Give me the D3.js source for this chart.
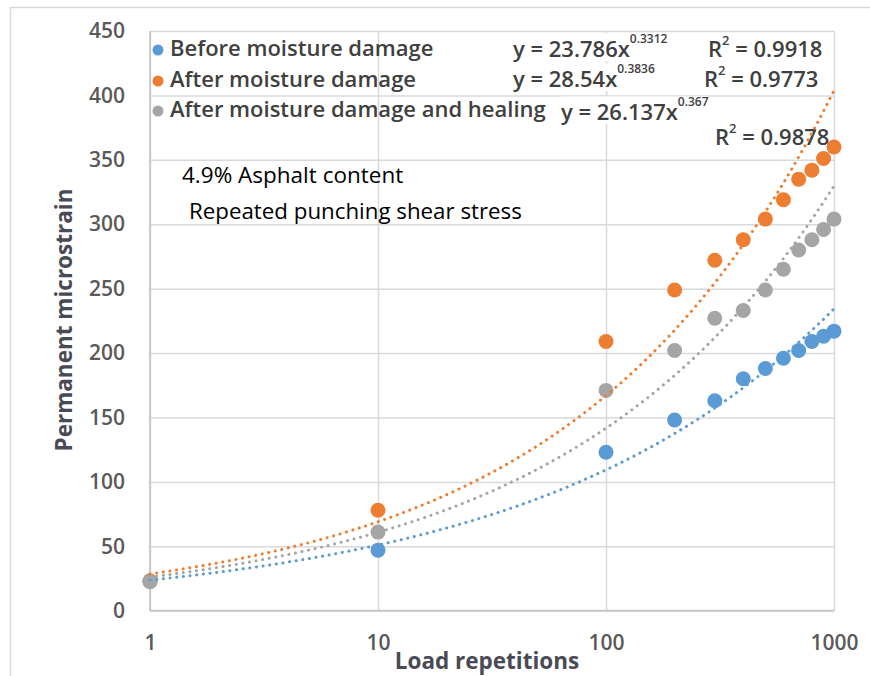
<!DOCTYPE html>
<html><head><meta charset="utf-8">
<script src="https://cdn.jsdelivr.net/npm/d3@7"></script>
<style>
html,body{margin:0;padding:0;background:#fff;}
svg{display:block;font-family:"Open Sans",sans-serif;}
</style></head>
<body><svg id="chart" width="870" height="676"></svg>
<script>
// ---- data ----
const loadReps = [1, 10, 100, 200, 300, 400, 500, 600, 700, 800, 900, 1000];
const beforeDamage = [23, 47, 123, 148, 163, 180, 188, 196, 202, 209, 213, 217];
const afterDamage = [23, 78, 209, 249, 272, 288, 304, 319, 335, 342, 351, 360];
const afterHealing = [22.5, 61, 171, 202, 227, 233, 249, 265, 280, 288, 296, 304];
const seriesNames = ["Before moisture damage", "After moisture damage", "After moisture damage and healing"];
const trendCoef = [23.786, 28.54, 26.137];
const trendExp = [0.3312, 0.3836, 0.367];
const trendR2 = ["0.9918", "0.9773", "0.9878"];
const yTicks = [0, 50, 100, 150, 200, 250, 300, 350, 400, 450];
const xTicks = [1, 10, 100, 1000];
const notes = ["4.9% Asphalt content", "Repeated punching shear stress"];

const colors = ["#5B9BD5", "#ED7D31", "#A5A5A5"];
const seriesVals = [beforeDamage, afterDamage, afterHealing];

const svg = d3.select("#chart");
const L = 150, R = 834, T = 31, B = 610.7;
const x = d3.scaleLog().domain([1, 1000]).range([L, R]);
const y = d3.scaleLinear().domain([0, 450]).range([B, T]);

// outer frame
svg.append("rect").attr("x", 10.5).attr("y", 7.5).attr("width", 900).attr("height", 700)
  .attr("fill", "none").attr("stroke", "#d9d9d9").attr("stroke-width", 1.5);

// gridlines + tick labels
const gy = svg.append("g").attr("transform", `translate(${L},0)`)
  .call(d3.axisLeft(y).tickValues(yTicks).tickSize(-(R - L)).tickPadding(25).tickFormat(d3.format("d")));
gy.select(".domain").remove();
gy.selectAll("line").attr("stroke", "#d9d9d9").attr("stroke-width", 1.5);
gy.selectAll("text").attr("fill", "#595959").attr("font-size", 21).attr("font-weight", 600)
  .attr("font-family", "'Open Sans',sans-serif");

const gx = svg.append("g").attr("transform", `translate(0,${B})`)
  .call(d3.axisBottom(x).tickValues(xTicks).tickSize(-(B - T)).tickPadding(32).tickFormat(d3.format("d")));
gx.select(".domain").remove();
gx.selectAll("line").attr("stroke", "#d9d9d9").attr("stroke-width", 1.5);
gx.selectAll("text").attr("fill", "#595959").attr("font-size", 21).attr("font-weight", 600)
  .attr("dy", "0.35em").attr("font-family", "'Open Sans',sans-serif");

// axis lines
svg.append("line").attr("x1", L).attr("x2", L).attr("y1", T).attr("y2", B)
  .attr("stroke", "#c8c8c8").attr("stroke-width", 1.8);
svg.append("line").attr("x1", L).attr("x2", R).attr("y1", B).attr("y2", B)
  .attr("stroke", "#c8c8c8").attr("stroke-width", 1.8);

// axis titles
svg.append("text").attr("x", 487).attr("y", 660).attr("text-anchor", "middle")
  .attr("dominant-baseline", "central").attr("font-size", 22.5).attr("font-weight", 700)
  .attr("fill", "#4a4a55").text("Load repetitions");
svg.append("text").attr("transform", "translate(63,320) rotate(-90)").attr("text-anchor", "middle")
  .attr("dominant-baseline", "central").attr("font-size", 22.5).attr("font-weight", 700)
  .attr("fill", "#4a4a55").text("Permanent microstrain");

// trendline labels (with white boxes)
const eqG = svg.append("g");
function eqLabel(tx, ty, i) {
  const t = eqG.append("text").attr("x", tx).attr("y", ty).attr("dominant-baseline", "central")
    .attr("font-size", 22).attr("font-weight", 600).attr("fill", "#404040");
  t.append("tspan").text(`y = ${trendCoef[i]}x`);
  t.append("tspan").attr("font-size", 12).attr("dy", -10).text(String(trendExp[i]));
  t.append("tspan").attr("dy", 10).text("");
  return t;
}
function r2Label(tx, ty, i) {
  const t = eqG.append("text").attr("x", tx).attr("y", ty).attr("dominant-baseline", "central")
    .attr("font-size", 22).attr("font-weight", 600).attr("fill", "#404040");
  t.append("tspan").text("R");
  t.append("tspan").attr("font-size", 13).attr("dy", -8).text("2");
  t.append("tspan").attr("dy", 8).text(` = ${trendR2[i]}`);
  return t;
}
const labels = [
  eqLabel(513, 48, 0), r2Label(708, 48, 0),
  eqLabel(513, 78, 1), r2Label(704, 78, 1),
  eqLabel(561, 111, 2), r2Label(715, 136, 2)
];
labels.forEach(t => {
  const b = t.node().getBBox();
  eqG.insert("rect", () => t.node()).attr("x", b.x).attr("y", b.y + 4)
    .attr("width", b.width).attr("height", b.height - 6).attr("fill", "#fff");
});

// markers
seriesVals.forEach((vals, i) => {
  svg.append("g").selectAll("circle").data(vals).join("circle")
    .attr("cx", (d, j) => x(loadReps[j])).attr("cy", d => y(d)).attr("r", 7.5)
    .attr("fill", colors[i]);
});

// trendlines (power fit from the equations shown on the chart)
const trendX = d3.range(0, 3.001, 0.02).map(e => Math.pow(10, e));
const line = d3.line().x(d => x(d[0])).y(d => y(d[1]));
seriesVals.forEach((vals, i) => {
  const pts = trendX.map(v => [v, trendCoef[i] * Math.pow(v, trendExp[i])]);
  svg.append("path").attr("d", line(pts)).attr("fill", "none").attr("stroke", colors[i])
    .attr("stroke-width", 3).attr("stroke-linecap", "round").attr("stroke-dasharray", "0.1,6.6");
});

// legend
seriesNames.forEach((n, i) => {
  const ly = [47, 78, 108][i];
  svg.append("circle").attr("cx", 158).attr("cy", ly + 3).attr("r", 5.5).attr("fill", colors[i]);
  svg.append("text").attr("x", 170).attr("y", ly).attr("dominant-baseline", "central")
    .attr("font-size", 22).attr("font-weight", 600).attr("fill", "#404040").text(n);
});

// notes
svg.append("text").attr("x", 182).attr("y", 174).attr("dominant-baseline", "central")
  .attr("font-size", 22.5).attr("fill", "#000").text(notes[0]);
svg.append("text").attr("x", 189).attr("y", 210).attr("dominant-baseline", "central")
  .attr("font-size", 22.3).attr("fill", "#000").text(notes[1]);
</script></body></html>
